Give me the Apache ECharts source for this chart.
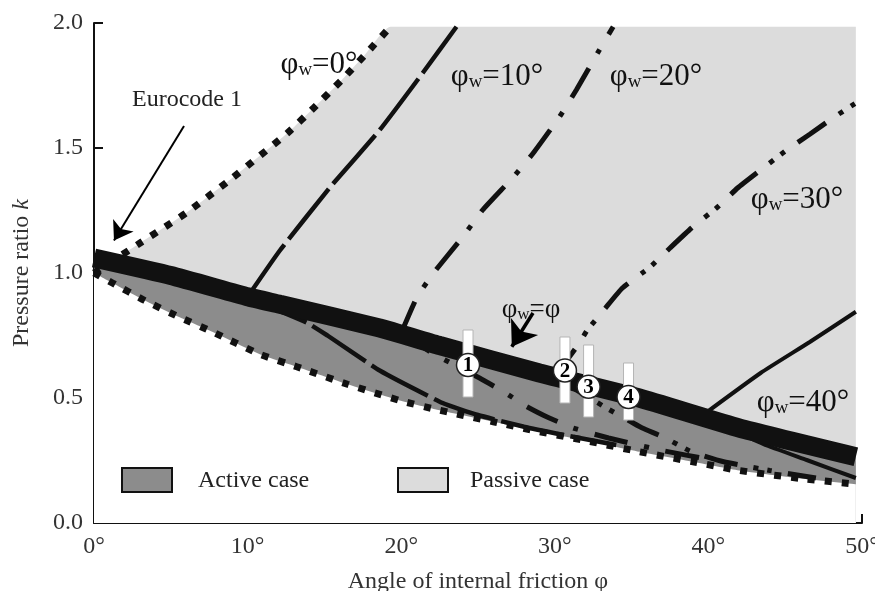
<!DOCTYPE html>
<html>
<head>
<meta charset="utf-8">
<script src="https://cdn.jsdelivr.net/npm/echarts@6/dist/echarts.min.js"></script>
<style>html,body{margin:0;padding:0;background:#fff}#c{width:875px;height:591px}</style>
</head>
<body>
<div id="c"></div>
<script>
// ---------- tick labels ----------
const xTicks = [0, 10, 20, 30, 40, 50];
const xTickLabels = ['0°', '10°', '20°', '30°', '40°', '50°'];
const yTicks = [0, 0.5, 1.0, 1.5, 2.0];
const yTickLabels = ['0.0', '0.5', '1.0', '1.5', '2.0'];

// ---------- curves: [phi (deg), k] ----------
const kPassivePhiW0 = [[0,1.0],[3,1.12],[6,1.24],[9,1.38],[12.6,1.56],[14.3,1.66],[16.1,1.77],[17.6,1.87],[19.3,1.985]];
const passiveRegionEdge = [[49.6,1.985]];
const kActivePhiW0 = [[0,1.0],[1.2,0.96],[3.3,0.89],[5.5,0.825],[7.7,0.765],[10.8,0.675],[13.2,0.625],[16.5,0.555],[19.9,0.49],[22.2,0.455],[26,0.405],[29,0.365],[32,0.33],[35.5,0.285],[39,0.245],[42,0.21],[46,0.178],[49.6,0.155]];
const kPhiWEqPhi = [[0,1.06],[5,0.99],[10,0.905],[12.1,0.875],[18.6,0.78],[22.5,0.71],[29,0.60],[35.5,0.50],[42,0.38],[49.6,0.265]];

const kPassive10 = [[10,0.905],[12.1,1.09],[15.4,1.345],[18.6,1.572],[21.4,1.8],[23.6,1.985]];
const kPassive20 = [[20,0.76],[21,0.9],[22.1,1.0],[24,1.144],[25.3,1.252],[27.3,1.384],[28.6,1.48],[30.3,1.624],[31.4,1.732],[32.9,1.892],[33.8,1.985]];
const kPassive30 = [[30,0.585],[31.6,0.72],[32.1,0.77],[33.3,0.86],[34.4,0.94],[36.2,1.024],[37.5,1.10],[38.9,1.18],[40.6,1.264],[41.9,1.34],[43.4,1.412],[45.1,1.492],[46.6,1.555],[48.1,1.62],[49.6,1.68]];
const kPassive40 = [[39.6,0.43],[43.4,0.6],[46.6,0.724],[49.6,0.845]];

const kActive10 = [[10,0.905],[12,0.85],[13.9,0.80],[15.2,0.75],[18.6,0.61],[22.7,0.48],[25,0.432],[28,0.385],[31,0.347],[34,0.312]];
const kActive20 = [[20,0.76],[22,0.68],[25.1,0.58],[26.8,0.52],[28.1,0.468],[29.5,0.424],[31.2,0.38],[33.5,0.34],[37,0.29],[40,0.255]];
const kActive30 = [[30,0.585],[32,0.51],[33.5,0.455],[35.1,0.40],[35.7,0.38],[37.2,0.34],[38.9,0.285],[41,0.245],[44,0.21],[47,0.18]];
const kActive40 = [[40,0.417],[43.6,0.315],[46.4,0.252],[49.6,0.18]];

// ---------- numbered measurements ----------
const markerLabels = ['1', '2', '3', '4'];
const markerPhi = [24.35, 30.66, 32.2, 34.8];
const markerK = [0.632, 0.61, 0.545, 0.504];
const markerKLow = [0.504, 0.48, 0.424, 0.412];
const markerKHigh = [0.772, 0.744, 0.712, 0.64];

// ---------- styling ----------
const F = '"Liberation Serif", "Times New Roman", serif';
const DARK = '#8c8c8c';
const LIGHT = '#dcdcdc';
const INK = '#111';

function curve(name, data, width, type, z) {
  return {
    name, type: 'line', data, symbol: 'none', smooth: 0.15,
    lineStyle: { color: INK, width, type, cap: 'butt' }, z, silent: true
  };
}
function area(name, data, color, z) {
  return {
    name, type: 'line', data, symbol: 'none', smooth: 0.15,
    lineStyle: { width: 0 }, areaStyle: { color, opacity: 1 }, z, silent: true
  };
}

const dotted = [7, 10];
const longDash = [64, 7];
const dashDot = [34, 17, 5, 17];
const dashDotDot = [34, 16, 5, 9, 5, 16];

const markerData = markerPhi.map((p, i) => [p, markerK[i], markerKLow[i], markerKHigh[i], markerLabels[i]]);

function labelText(x, y, rest, size) {
  const s = size || 31;
  return {
    type: 'text', x, y, z: 100,
    style: {
      text: '{a|φ}{w|w}{a|' + rest + '}',
      align: 'center', verticalAlign: 'middle',
      rich: {
        a: { fontSize: s, fontFamily: F, fill: INK, lineHeight: s + 9, verticalAlign: 'bottom' },
        w: { fontSize: Math.round(s * 0.62), fontFamily: F, fill: INK, lineHeight: Math.round(s * 0.62), verticalAlign: 'bottom' }
      }
    }
  };
}

const chart = echarts.init(document.getElementById('c'), null, { renderer: 'canvas' });
chart.setOption({
  animation: false,
  backgroundColor: '#fff',
  grid: { left: 94, right: 13, top: 23, bottom: 68, containLabel: false, outerBoundsMode: 'none' },
  xAxis: {
    type: 'value', min: 0, max: 50, interval: 10,
    axisLine: { show: true, lineStyle: { color: INK, width: 2 } },
    axisTick: { show: true, inside: true, length: 9, lineStyle: { color: INK, width: 2 } },
    axisLabel: { formatter: v => xTickLabels[xTicks.indexOf(v)] ?? '', fontFamily: F, fontSize: 24, color: '#333', margin: 12 },
    splitLine: { show: false },
    name: 'Angle of internal friction φ', nameLocation: 'middle', nameGap: 47,
    nameTextStyle: { fontFamily: F, fontSize: 24, color: '#333' }
  },
  yAxis: {
    type: 'value', min: 0, max: 2, interval: 0.5,
    axisLine: { show: true, lineStyle: { color: INK, width: 2 } },
    axisTick: { show: true, inside: true, length: 9, lineStyle: { color: INK, width: 2 } },
    axisLabel: { formatter: v => { const i = yTicks.findIndex(t => Math.abs(t - v) < 1e-9); return i >= 0 ? yTickLabels[i] : ''; }, fontFamily: F, fontSize: 24, color: '#333', margin: 11 },
    splitLine: { show: false },
    name: 'Pressure ratio {i|k}', nameLocation: 'middle', nameGap: 60,
    nameTextStyle: { fontFamily: F, fontSize: 24, color: '#333', rich: { i: { fontStyle: 'italic', fontFamily: F, fontSize: 24, color: '#333' } } }
  },
  series: [
    area('passive region', kPassivePhiW0.concat(passiveRegionEdge), LIGHT, 1),
    area('active region', kPhiWEqPhi, DARK, 2),
    area('below active', kActivePhiW0, '#ffffff', 3),
    curve('passive φw=0', kPassivePhiW0, 7, dotted, 4),
    curve('active φw=0', kActivePhiW0, 7, dotted, 4),
    curve('passive φw=10', kPassive10, 4.5, longDash, 4),
    curve('active φw=10', kActive10, 4.5, longDash, 4),
    curve('passive φw=20', kPassive20, 5, dashDot, 4),
    curve('active φw=20', kActive20, 5, dashDot, 4),
    curve('passive φw=30', kPassive30, 5, dashDotDot, 4),
    curve('active φw=30', kActive30, 5, dashDotDot, 4),
    curve('passive φw=40', kPassive40, 4, 'solid', 4),
    curve('active φw=40', kActive40, 4, 'solid', 4),
    Object.assign(curve('φw=φ', kPhiWEqPhi, 19, 'solid', 5), {
      markLine: {
        silent: true, animation: false, symbol: ['none', 'arrow'], symbolSize: 18,
        label: { show: false },
        lineStyle: { color: '#000', width: 2, type: 'solid' },
        data: [
          [{ coord: [5.86, 1.588] }, { coord: [1.3, 1.13] }],
          [{ coord: [28.58, 0.84], lineStyle: { width: 3.5, color: '#000', type: 'solid' } }, { coord: [27.2, 0.705], symbolSize: 24 }]
        ]
      }
    }),
    {
      name: 'measurements', type: 'custom', z: 8, silent: true,
      data: markerData,
      renderItem: (params, api) => {
        const c = api.coord([api.value(0), api.value(1)]);
        const lo = api.coord([api.value(0), api.value(2)]);
        const hi = api.coord([api.value(0), api.value(3)]);
        return {
          type: 'group',
          children: [
            { type: 'rect', shape: { x: c[0] - 5, y: hi[1], width: 10, height: lo[1] - hi[1] }, style: { fill: '#fff', stroke: '#b5b5b5', lineWidth: 1 } },
            { type: 'circle', shape: { cx: c[0], cy: c[1], r: 11.5 }, style: { fill: '#fff', stroke: '#222', lineWidth: 1.5 } },
            { type: 'text', style: { text: markerData[params.dataIndex][4], x: c[0], y: c[1] + 1, align: 'center', verticalAlign: 'middle', fontFamily: F, fontSize: 21, fontWeight: 'bold', fill: '#000' } }
          ]
        };
      }
    }
  ],
  graphic: [
    labelText(319, 60, '=0°'),
    labelText(497, 72, '=10°'),
    labelText(656, 72, '=20°'),
    labelText(797, 195, '=30°'),
    labelText(803, 398, '=40°'),
    labelText(531, 305, '=φ', 27),
    { type: 'text', x: 187, y: 100, z: 100, style: { text: 'Eurocode 1', fontFamily: F, fontSize: 24, fill: '#222', align: 'center', verticalAlign: 'middle' } },
    // legend
    { type: 'rect', z: 100, shape: { x: 122, y: 468, width: 50, height: 24 }, style: { fill: DARK, stroke: INK, lineWidth: 2 } },
    { type: 'text', x: 198, y: 481, z: 100, style: { text: 'Active case', fontFamily: F, fontSize: 24, fill: '#222', align: 'left', verticalAlign: 'middle' } },
    { type: 'rect', z: 100, shape: { x: 398, y: 468, width: 50, height: 24 }, style: { fill: LIGHT, stroke: INK, lineWidth: 2 } },
    { type: 'text', x: 470, y: 481, z: 100, style: { text: 'Passive case', fontFamily: F, fontSize: 24, fill: '#222', align: 'left', verticalAlign: 'middle' } }
  ]
});
</script>
</body>
</html>
